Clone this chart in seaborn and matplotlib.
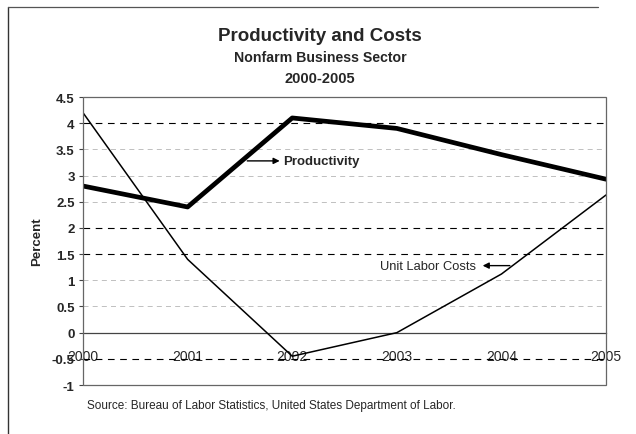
import matplotlib
matplotlib.use("Agg")
import matplotlib.pyplot as plt
import seaborn as sns
import pandas as pd
from matplotlib.patches import Rectangle
from matplotlib.lines import Line2D

years = [2000, 2001, 2002, 2003, 2004, 2005]
productivity = [2.8, 2.4, 4.1, 3.9, 3.4, 2.93]
unit_labor_costs = [4.2, 1.4, -0.45, 0.0, 1.12, 2.63]
y_ticks = [-1, -0.5, 0, 0.5, 1, 1.5, 2, 2.5, 3, 3.5, 4, 4.5]
y_tick_labels = ["-1", "-0.5", "0", "0.5", "1", "1.5", "2", "2.5", "3", "3.5", "4", "4.5"]

sns.set_style("white")
plt.rcParams["font.family"] = ["Liberation Sans", "DejaVu Sans"]

df = pd.DataFrame({"Year": years, "Productivity": productivity,
                   "Unit Labor Costs": unit_labor_costs})

fig = plt.figure(figsize=(6.36, 4.35), dpi=100)
ax = fig.add_axes([0.1305, 0.1126, 0.8225, 0.6621])

# gridlines
for v in y_ticks[1:]:
    if v == 0:
        continue
    strong = v in (4, 2, 1.5, -0.5)
    ax.axhline(v, color="black" if strong else "#b5b5b5", lw=0.8 if strong else 0.6,
               ls=(0, (6, 5)), zorder=1)

sns.lineplot(data=df, x="Year", y="Productivity", ax=ax, color="black", lw=3.4, zorder=3)
sns.lineplot(data=df, x="Year", y="Unit Labor Costs", ax=ax, color="black", lw=1.1, zorder=3)

ax.set_xlim(2000, 2005)
ax.set_ylim(-1, 4.5)
ax.set_yticks(y_ticks)
ax.set_yticklabels(y_tick_labels, fontsize=9.5, fontweight="bold")
ax.set_xticks(years)
ax.set_xticklabels([str(y) for y in years], fontsize=9.5, fontweight="bold")

for s in ax.spines.values():
    s.set_visible(False)
ax.spines["bottom"].set_visible(True)
ax.spines["bottom"].set_position(("data", 0))
ax.spines["bottom"].set_color("#444444")
ax.spines["bottom"].set_linewidth(0.9)
ax.add_patch(Rectangle((0, 0), 1, 1, transform=ax.transAxes, fill=False,
                       edgecolor="#666666", lw=0.9, clip_on=False, zorder=4))
ax.tick_params(axis="x", direction="in", length=3, pad=12, color="#444444")
ax.tick_params(axis="y", direction="out", length=3, pad=3, color="#444444", left=True)

ax.set_xlabel("")
ax.set_ylabel("Percent", fontsize=9.5, fontweight="bold", labelpad=6)

# annotations
arrow = dict(arrowstyle="-|>", color="black", fc="black", lw=1,
             mutation_scale=9, shrinkA=0, shrinkB=0)
ax.text(2001.91, 3.28, "Productivity", fontsize=9.5, fontweight="bold",
        va="center", ha="left")
ax.annotate("", xy=(2001.88, 3.28), xytext=(2001.57, 3.28), arrowprops=arrow)
ax.text(2002.84, 1.28, "Unit Labor Costs", fontsize=9.3, va="center", ha="left")
ax.annotate("", xy=(2003.82, 1.28), xytext=(2004.08, 1.28), arrowprops=arrow)

# titles
fig.text(0.503, 0.917, "Productivity and Costs", ha="center", va="center",
         fontsize=13.5, fontweight="bold")
fig.text(0.503, 0.866, "Nonfarm Business Sector", ha="center", va="center",
         fontsize=10.2, fontweight="bold")
fig.text(0.503, 0.818, "2000-2005", ha="center", va="center",
         fontsize=10.5, fontweight="bold")
fig.text(0.137, 0.067, "Source: Bureau of Labor Statistics, United States Department of Labor.",
         ha="left", va="center", fontsize=8.5)

# outer border
fig.add_artist(Line2D([0.013, 0.013], [0.0, 0.982], color="#333333", lw=1.0))
fig.add_artist(Line2D([0.013, 0.94], [0.982, 0.982], color="#555555", lw=0.9))

fig.savefig("out.png", dpi=100)
